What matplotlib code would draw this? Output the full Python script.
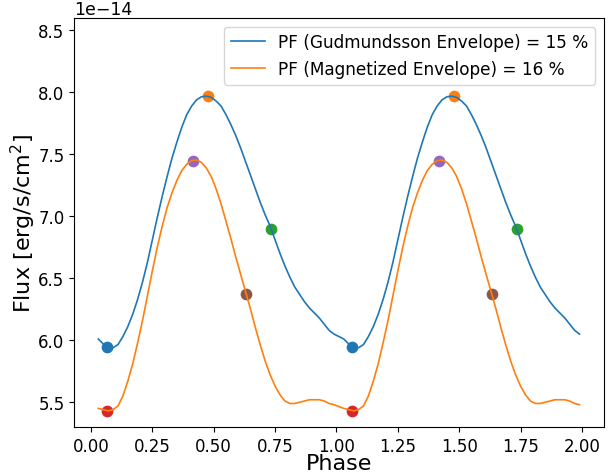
import numpy as np
import matplotlib
matplotlib.use("Agg")
import matplotlib.pyplot as plt

# one rotation phase grid (repeated for the second cycle)
phase = np.array([0.03, 0.05, 0.07, 0.09, 0.11, 0.13, 0.15, 0.17, 0.19, 0.21,
                  0.23, 0.25, 0.27, 0.29, 0.31, 0.33, 0.35, 0.37, 0.39, 0.41,
                  0.43, 0.45, 0.47, 0.49, 0.51, 0.53, 0.55, 0.57, 0.59, 0.61,
                  0.63, 0.65, 0.67, 0.69, 0.71, 0.73, 0.75, 0.77, 0.79, 0.81,
                  0.83, 0.85, 0.87, 0.89, 0.91, 0.93, 0.95, 0.97, 0.99])

# flux in units of 1e-14 erg/s/cm^2
flux_gudmundsson = np.array([6.01, 5.97, 5.945, 5.94, 5.965, 6.03, 6.11, 6.21, 6.33, 6.47,
                             6.63, 6.81, 6.99, 7.16, 7.32, 7.47, 7.60, 7.72, 7.82, 7.89,
                             7.94, 7.965, 7.97, 7.96, 7.93, 7.89, 7.82, 7.74, 7.65, 7.55,
                             7.44, 7.33, 7.22, 7.11, 7.01, 6.92, 6.81, 6.70, 6.60, 6.51,
                             6.43, 6.37, 6.31, 6.26, 6.22, 6.18, 6.13, 6.08, 6.05])

flux_magnetized = np.array([5.45, 5.44, 5.43, 5.44, 5.47, 5.55, 5.67, 5.81, 5.98, 6.16,
                            6.36, 6.56, 6.75, 6.92, 7.07, 7.19, 7.29, 7.37, 7.42, 7.45,
                            7.455, 7.435, 7.39, 7.32, 7.22, 7.10, 6.96, 6.82, 6.67, 6.53,
                            6.39, 6.25, 6.10, 5.96, 5.83, 5.72, 5.63, 5.56, 5.51, 5.49,
                            5.49, 5.50, 5.51, 5.52, 5.52, 5.52, 5.51, 5.49, 5.48])

# marked points (phase, flux) - each repeated in the second cycle
mark_phase = [0.065, 0.478, 0.735, 0.065, 0.417, 0.633]
mark_flux = [5.946, 7.97, 6.90, 5.43, 7.445, 6.37]
mark_colors = ["C0", "C1", "C2", "C3", "C4", "C5"]

labels = ["PF (Gudmundsson Envelope) = 15 %", "PF (Magnetized Envelope) = 16 %"]
scale = 1e-14

fig, ax = plt.subplots(figsize=(6.14, 4.77), dpi=100)
fig.subplots_adjust(left=0.121, right=0.983, top=0.960, bottom=0.1027)

ph2 = np.concatenate([phase, phase + 1])
ax.plot(ph2, np.concatenate([flux_gudmundsson, flux_gudmundsson]) * scale,
        color="C0", lw=1.2, label=labels[0])
ax.plot(ph2, np.concatenate([flux_magnetized, flux_magnetized]) * scale,
        color="C1", lw=1.2, label=labels[1])

for p, f, c in zip(mark_phase, mark_flux, mark_colors):
    ax.scatter([p, p + 1], [f * scale, f * scale], color=c, s=55)

ax.set_ylim(5.3e-14, 8.6e-14)
ax.set_xlabel("Phase", fontsize=16, labelpad=-1)
ax.set_ylabel("Flux [erg/s/cm$^2$]", fontsize=16, labelpad=0)
ax.tick_params(labelsize=12)
ax.yaxis.get_offset_text().set_fontsize(12.5)
ax.legend(loc="upper right", fontsize=12.2)

fig.savefig("out.png", dpi=100)
